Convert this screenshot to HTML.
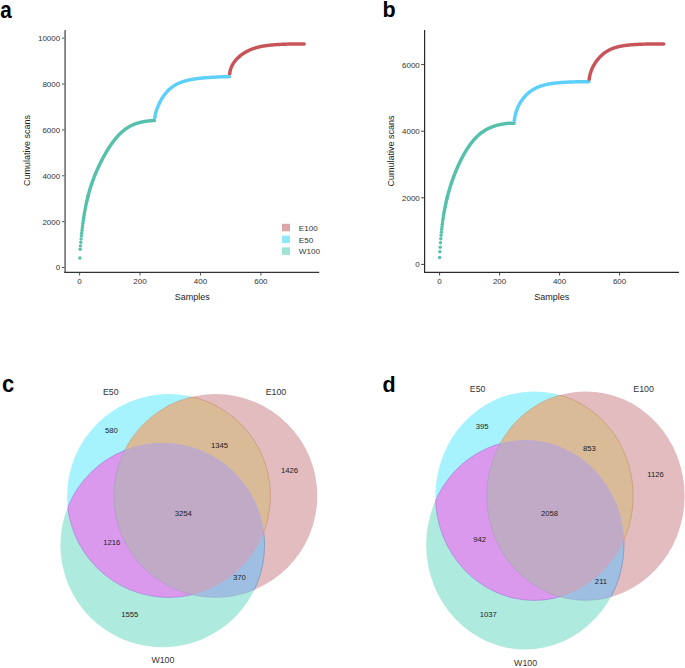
<!DOCTYPE html>
<html><head><meta charset="utf-8"><style>
html,body{margin:0;padding:0;background:#fff;}
body{width:685px;height:668px;overflow:hidden;font-family:"Liberation Sans", sans-serif;}
svg{display:block;}
</style></head><body><svg width="685" height="668" viewBox="0 0 685 668" font-family='"Liberation Sans", sans-serif'><text x="0" y="0" font-size="24" text-anchor="start" fill="#000" font-weight="bold" transform="translate(0.3,17.6) scale(0.86,0.98)">a</text><text x="382.4" y="17.2" font-size="21.5" text-anchor="start" fill="#000" font-weight="bold" >b</text><text x="0" y="0" font-size="24" text-anchor="start" fill="#000" font-weight="bold" transform="translate(1.9,392) scale(0.92,0.98)">c</text><text x="382.4" y="391.9" font-size="21.5" text-anchor="start" fill="#000" font-weight="bold" >d</text><line x1="65.1" y1="30" x2="65.1" y2="272.9" stroke="#6e6e6e" stroke-width="1.6"/><line x1="64.4" y1="272.4" x2="319.2" y2="272.4" stroke="#333" stroke-width="1.1"/><line x1="62" y1="267.50" x2="64.4" y2="267.50" stroke="#555" stroke-width="1"/><text x="60.2" y="270.4" font-size="8" text-anchor="end" fill="#333" font-weight="normal" >0</text><line x1="62" y1="221.64" x2="64.4" y2="221.64" stroke="#555" stroke-width="1"/><text x="60.2" y="224.54" font-size="8" text-anchor="end" fill="#333" font-weight="normal" >2000</text><line x1="62" y1="175.78" x2="64.4" y2="175.78" stroke="#555" stroke-width="1"/><text x="60.2" y="178.68" font-size="8" text-anchor="end" fill="#333" font-weight="normal" >4000</text><line x1="62" y1="129.92" x2="64.4" y2="129.92" stroke="#555" stroke-width="1"/><text x="60.2" y="132.82000000000002" font-size="8" text-anchor="end" fill="#333" font-weight="normal" >6000</text><line x1="62" y1="84.06" x2="64.4" y2="84.06" stroke="#555" stroke-width="1"/><text x="60.2" y="86.96000000000001" font-size="8" text-anchor="end" fill="#333" font-weight="normal" >8000</text><line x1="62" y1="38.20" x2="64.4" y2="38.20" stroke="#555" stroke-width="1"/><text x="60.2" y="41.100000000000016" font-size="8" text-anchor="end" fill="#333" font-weight="normal" >10000</text><line x1="79.60" y1="272.9" x2="79.60" y2="275.5" stroke="#555" stroke-width="1"/><text x="79.6" y="284.3" font-size="8" text-anchor="middle" fill="#333" font-weight="normal" >0</text><line x1="140.03" y1="272.9" x2="140.03" y2="275.5" stroke="#555" stroke-width="1"/><text x="140.03" y="284.3" font-size="8" text-anchor="middle" fill="#333" font-weight="normal" >200</text><line x1="200.47" y1="272.9" x2="200.47" y2="275.5" stroke="#555" stroke-width="1"/><text x="200.47" y="284.3" font-size="8" text-anchor="middle" fill="#333" font-weight="normal" >400</text><line x1="260.90" y1="272.9" x2="260.90" y2="275.5" stroke="#555" stroke-width="1"/><text x="260.9" y="284.3" font-size="8" text-anchor="middle" fill="#333" font-weight="normal" >600</text><text x="192.3" y="300.1" font-size="9" text-anchor="middle" fill="#222" font-weight="normal" >Samples</text><text x="0" y="0" font-size="9" text-anchor="middle" fill="#222" font-weight="normal" transform="translate(30.4,150.5) rotate(-90)">Cumulative scans</text><rect x="282" y="223.8" width="8" height="7.5" fill="#dca5aa"/><text x="298.8" y="230.8" font-size="8.1" text-anchor="start" fill="#333" font-weight="normal" >E100</text><rect x="282" y="235.6" width="8" height="7.5" fill="#8ee7fb"/><text x="298.8" y="242.6" font-size="8.1" text-anchor="start" fill="#333" font-weight="normal" >E50</text><rect x="282" y="247.4" width="8" height="7.5" fill="#9ee3d3"/><text x="298.8" y="254.4" font-size="8.1" text-anchor="start" fill="#333" font-weight="normal" >W100</text><circle cx="79.90" cy="258.00" r="1.73" fill="#56c1ab"/><circle cx="80.20" cy="249.20" r="1.73" fill="#56c1ab"/><circle cx="80.50" cy="245.86" r="1.73" fill="#56c1ab"/><circle cx="80.80" cy="242.36" r="1.73" fill="#56c1ab"/><circle cx="81.10" cy="239.12" r="1.73" fill="#56c1ab"/><circle cx="81.40" cy="236.09" r="1.73" fill="#56c1ab"/><circle cx="81.70" cy="233.26" r="1.73" fill="#56c1ab"/><circle cx="82.00" cy="230.58" r="1.73" fill="#56c1ab"/><circle cx="82.30" cy="228.05" r="1.73" fill="#56c1ab"/><circle cx="82.60" cy="225.66" r="1.73" fill="#56c1ab"/><circle cx="82.90" cy="223.38" r="1.73" fill="#56c1ab"/><circle cx="83.19" cy="221.21" r="1.73" fill="#56c1ab"/><circle cx="83.49" cy="219.14" r="1.73" fill="#56c1ab"/><circle cx="83.79" cy="217.16" r="1.73" fill="#56c1ab"/><circle cx="84.09" cy="215.27" r="1.73" fill="#56c1ab"/><circle cx="84.39" cy="213.46" r="1.73" fill="#56c1ab"/><circle cx="84.69" cy="211.72" r="1.73" fill="#56c1ab"/><circle cx="84.99" cy="210.04" r="1.73" fill="#56c1ab"/><circle cx="85.29" cy="208.44" r="1.73" fill="#56c1ab"/><circle cx="85.59" cy="206.89" r="1.73" fill="#56c1ab"/><circle cx="85.89" cy="205.39" r="1.73" fill="#56c1ab"/><circle cx="86.19" cy="203.95" r="1.73" fill="#56c1ab"/><circle cx="86.49" cy="202.56" r="1.73" fill="#56c1ab"/><circle cx="86.79" cy="201.21" r="1.73" fill="#56c1ab"/><circle cx="87.09" cy="199.90" r="1.73" fill="#56c1ab"/><circle cx="87.39" cy="198.64" r="1.73" fill="#56c1ab"/><circle cx="87.69" cy="197.41" r="1.73" fill="#56c1ab"/><circle cx="87.99" cy="196.22" r="1.73" fill="#56c1ab"/><path d="M87.99,196.22 88.29,195.06 88.59,193.93 88.89,192.84 89.18,191.77 89.48,190.73 89.78,189.71 90.08,188.72 90.38,187.75 90.68,186.80 90.98,185.87 91.28,184.96 91.58,184.07 91.88,183.19 92.18,182.33 92.48,181.49 92.78,180.66 93.08,179.85 93.38,179.05 93.68,178.26 93.98,177.48 94.28,176.72 94.58,175.97 94.88,175.22 95.17,174.49 95.47,173.77 95.77,173.05 96.07,172.35 96.37,171.65 96.67,170.96 96.97,170.28 97.27,169.61 97.57,168.95 97.87,168.29 98.17,167.64 98.47,166.99 98.77,166.35 99.07,165.72 99.37,165.10 99.67,164.48 99.97,163.86 100.27,163.26 100.57,162.65 100.87,162.06 101.16,161.46 101.46,160.88 101.76,160.30 102.06,159.72 102.36,159.15 102.66,158.58 102.96,158.02 103.26,157.47 103.56,156.91 103.86,156.37 104.16,155.83 104.46,155.29 104.76,154.76 105.06,154.23 105.36,153.71 105.66,153.19 105.96,152.67 106.26,152.16 106.56,151.66 106.86,151.16 107.15,150.66 107.45,150.17 107.75,149.69 108.05,149.21 108.35,148.73 108.65,148.26 108.95,147.79 109.25,147.33 109.55,146.87 109.85,146.41 110.15,145.96 110.45,145.52 110.75,145.08 111.05,144.64 111.35,144.21 111.65,143.79 111.95,143.36 112.25,142.95 112.55,142.54 112.84,142.13 113.14,141.73 113.44,141.33 113.74,140.93 114.04,140.54 114.34,140.16 114.64,139.78 114.94,139.41 115.24,139.04 115.54,138.67 115.84,138.31 116.14,137.95 116.44,137.60 116.74,137.26 117.04,136.91 117.34,136.58 117.64,136.24 117.94,135.91 118.24,135.59 118.54,135.27 118.84,134.96 119.13,134.65 119.43,134.34 119.73,134.04 120.03,133.74 120.33,133.45 120.63,133.16 120.93,132.88 121.23,132.60 121.53,132.33 121.83,132.06 122.13,131.79 122.43,131.53 122.73,131.27 123.03,131.02 123.33,130.77 123.63,130.53 123.93,130.29 124.23,130.05 124.53,129.82 124.83,129.59 125.12,129.37 125.42,129.15 125.72,128.93 126.02,128.72 126.32,128.51 126.62,128.31 126.92,128.10 127.22,127.91 127.52,127.71 127.82,127.53 128.12,127.34 128.42,127.16 128.72,126.98 129.02,126.80 129.32,126.63 129.62,126.46 129.92,126.30 130.22,126.14 130.52,125.98 130.81,125.82 131.11,125.67 131.41,125.52 131.71,125.38 132.01,125.24 132.31,125.10 132.61,124.96 132.91,124.83 133.21,124.70 133.51,124.57 133.81,124.45 134.11,124.32 134.41,124.21 134.71,124.09 135.01,123.98 135.31,123.86 135.61,123.76 135.91,123.65 136.21,123.55 136.51,123.45 136.81,123.35 137.10,123.25 137.40,123.16 137.70,123.06 138.00,122.98 138.30,122.89 138.60,122.80 138.90,122.72 139.20,122.64 139.50,122.56 139.80,122.48 140.10,122.41 140.40,122.34 140.70,122.27 141.00,122.20 141.30,122.13 141.60,122.06 141.90,122.00 142.20,121.94 142.50,121.88 142.80,121.82 143.09,121.76 143.39,121.70 143.69,121.65 143.99,121.60 144.29,121.55 144.59,121.50 144.89,121.45 145.19,121.40 145.49,121.35 145.79,121.31 146.09,121.27 146.39,121.23 146.69,121.18 146.99,121.14 147.29,121.11 147.59,121.07 147.89,121.03 148.19,121.00 148.49,120.96 148.78,120.93 149.08,120.90 149.38,120.87 149.68,120.84 149.98,120.81 150.28,120.78 150.58,120.75 150.88,120.73 151.18,120.70 151.48,120.67 151.78,120.65 152.08,120.63 152.38,120.60 152.68,120.58 152.98,120.56 153.28,120.55 153.58,120.55 153.88,120.55 154.18,120.55 154.48,120.55" fill="none" stroke="#56c1ab" stroke-width="3.45" stroke-linecap="round" stroke-linejoin="round"/><circle cx="154.78" cy="117.44" r="1.73" fill="#5cd0fb"/><path d="M154.78,117.44 155.07,115.73 155.37,114.35 155.67,113.14 155.97,112.06 156.27,111.06 156.57,110.12 156.87,109.24 157.17,108.41 157.47,107.61 157.77,106.85 158.07,106.12 158.37,105.41 158.67,104.73 158.97,104.08 159.27,103.44 159.57,102.82 159.87,102.23 160.17,101.64 160.47,101.08 160.77,100.53 161.06,99.99 161.36,99.47 161.66,98.96 161.96,98.46 162.26,97.98 162.56,97.51 162.86,97.05 163.16,96.60 163.46,96.16 163.76,95.73 164.06,95.32 164.36,94.91 164.66,94.51 164.96,94.12 165.26,93.74 165.56,93.37 165.86,93.01 166.16,92.65 166.46,92.30 166.75,91.97 167.05,91.64 167.35,91.31 167.65,91.00 167.95,90.69 168.25,90.39 168.55,90.09 168.85,89.81 169.15,89.53 169.45,89.25 169.75,88.98 170.05,88.72 170.35,88.47 170.65,88.22 170.95,87.97 171.25,87.73 171.55,87.50 171.85,87.27 172.15,87.05 172.45,86.83 172.75,86.62 173.04,86.41 173.34,86.21 173.64,86.01 173.94,85.82 174.24,85.63 174.54,85.44 174.84,85.26 175.14,85.09 175.44,84.91 175.74,84.74 176.04,84.58 176.34,84.42 176.64,84.26 176.94,84.11 177.24,83.95 177.54,83.81 177.84,83.66 178.14,83.52 178.44,83.38 178.74,83.25 179.03,83.12 179.33,82.99 179.63,82.86 179.93,82.74 180.23,82.62 180.53,82.50 180.83,82.38 181.13,82.27 181.43,82.16 181.73,82.05 182.03,81.94 182.33,81.84 182.63,81.74 182.93,81.64 183.23,81.54 183.53,81.45 183.83,81.35 184.13,81.26 184.43,81.17 184.72,81.09 185.02,81.00 185.32,80.92 185.62,80.83 185.92,80.75 186.22,80.67 186.52,80.60 186.82,80.52 187.12,80.45 187.42,80.37 187.72,80.30 188.02,80.23 188.32,80.16 188.62,80.10 188.92,80.03 189.22,79.96 189.52,79.90 189.82,79.84 190.12,79.78 190.42,79.72 190.72,79.66 191.01,79.60 191.31,79.55 191.61,79.49 191.91,79.44 192.21,79.38 192.51,79.33 192.81,79.28 193.11,79.23 193.41,79.18 193.71,79.13 194.01,79.08 194.31,79.03 194.61,78.99 194.91,78.94 195.21,78.90 195.51,78.86 195.81,78.81 196.11,78.77 196.41,78.73 196.71,78.69 197.00,78.65 197.30,78.61 197.60,78.57 197.90,78.53 198.20,78.50 198.50,78.46 198.80,78.42 199.10,78.39 199.40,78.35 199.70,78.32 200.00,78.29 200.30,78.25 200.60,78.22 200.90,78.19 201.20,78.16 201.50,78.13 201.80,78.10 202.10,78.07 202.40,78.04 202.69,78.01 202.99,77.98 203.29,77.95 203.59,77.92 203.89,77.90 204.19,77.87 204.49,77.84 204.79,77.82 205.09,77.79 205.39,77.77 205.69,77.74 205.99,77.72 206.29,77.69 206.59,77.67 206.89,77.65 207.19,77.62 207.49,77.60 207.79,77.58 208.09,77.56 208.39,77.54 208.69,77.52 208.98,77.49 209.28,77.47 209.58,77.45 209.88,77.43 210.18,77.41 210.48,77.39 210.78,77.38 211.08,77.36 211.38,77.34 211.68,77.32 211.98,77.30 212.28,77.28 212.58,77.27 212.88,77.25 213.18,77.23 213.48,77.22 213.78,77.20 214.08,77.18 214.38,77.17 214.68,77.15 214.97,77.13 215.27,77.12 215.57,77.10 215.87,77.09 216.17,77.07 216.47,77.06 216.77,77.04 217.07,77.03 217.37,77.02 217.67,77.00 217.97,76.99 218.27,76.98 218.57,76.96 218.87,76.95 219.17,76.94 219.47,76.92 219.77,76.91 220.07,76.90 220.37,76.89 220.67,76.87 220.96,76.86 221.26,76.85 221.56,76.84 221.86,76.83 222.16,76.81 222.46,76.80 222.76,76.80 223.06,76.80 223.36,76.80 223.66,76.80 223.96,76.80 224.26,76.80 224.56,76.80 224.86,76.80 225.16,76.80 225.46,76.80 225.76,76.80 226.06,76.80 226.36,76.80 226.66,76.80 226.95,76.80 227.25,76.80 227.55,76.80 227.85,76.80 228.15,76.80 228.45,76.80 228.75,76.80 229.05,76.80 229.35,76.80" fill="none" stroke="#5cd0fb" stroke-width="3.45" stroke-linecap="round" stroke-linejoin="round"/><circle cx="229.65" cy="73.61" r="1.73" fill="#c7545a"/><path d="M229.65,73.61 229.95,71.79 230.25,70.47 230.55,69.40 230.85,68.48 231.15,67.67 231.45,66.94 231.75,66.27 232.05,65.65 232.35,65.07 232.65,64.53 232.94,64.01 233.24,63.53 233.54,63.06 233.84,62.61 234.14,62.19 234.44,61.77 234.74,61.38 235.04,60.99 235.34,60.62 235.64,60.27 235.94,59.92 236.24,59.58 236.54,59.25 236.84,58.93 237.14,58.62 237.44,58.31 237.74,58.02 238.04,57.73 238.34,57.45 238.63,57.17 238.93,56.90 239.23,56.64 239.53,56.38 239.83,56.12 240.13,55.88 240.43,55.63 240.73,55.39 241.03,55.16 241.33,54.93 241.63,54.71 241.93,54.49 242.23,54.27 242.53,54.06 242.83,53.85 243.13,53.65 243.43,53.45 243.73,53.25 244.03,53.06 244.33,52.87 244.62,52.69 244.92,52.50 245.22,52.33 245.52,52.15 245.82,51.98 246.12,51.81 246.42,51.64 246.72,51.48 247.02,51.32 247.32,51.16 247.62,51.01 247.92,50.86 248.22,50.71 248.52,50.57 248.82,50.42 249.12,50.28 249.42,50.15 249.72,50.01 250.02,49.88 250.32,49.75 250.62,49.62 250.91,49.50 251.21,49.38 251.51,49.26 251.81,49.14 252.11,49.03 252.41,48.91 252.71,48.80 253.01,48.70 253.31,48.59 253.61,48.49 253.91,48.38 254.21,48.28 254.51,48.19 254.81,48.09 255.11,48.00 255.41,47.91 255.71,47.82 256.01,47.73 256.31,47.64 256.61,47.56 256.90,47.48 257.20,47.40 257.50,47.32 257.80,47.24 258.10,47.16 258.40,47.09 258.70,47.02 259.00,46.95 259.30,46.88 259.60,46.81 259.90,46.74 260.20,46.68 260.50,46.61 260.80,46.55 261.10,46.49 261.40,46.43 261.70,46.37 262.00,46.31 262.30,46.26 262.60,46.20 262.89,46.15 263.19,46.10 263.49,46.05 263.79,46.00 264.09,45.95 264.39,45.90 264.69,45.85 264.99,45.81 265.29,45.76 265.59,45.72 265.89,45.68 266.19,45.63 266.49,45.59 266.79,45.55 267.09,45.51 267.39,45.47 267.69,45.44 267.99,45.40 268.29,45.36 268.58,45.33 268.88,45.29 269.18,45.26 269.48,45.23 269.78,45.19 270.08,45.16 270.38,45.13 270.68,45.10 270.98,45.07 271.28,45.04 271.58,45.01 271.88,44.99 272.18,44.96 272.48,44.93 272.78,44.91 273.08,44.88 273.38,44.86 273.68,44.83 273.98,44.81 274.28,44.78 274.57,44.76 274.87,44.74 275.17,44.72 275.47,44.69 275.77,44.67 276.07,44.65 276.37,44.63 276.67,44.61 276.97,44.59 277.27,44.57 277.57,44.55 277.87,44.54 278.17,44.52 278.47,44.50 278.77,44.48 279.07,44.46 279.37,44.45 279.67,44.43 279.97,44.42 280.27,44.40 280.56,44.38 280.86,44.37 281.16,44.35 281.46,44.34 281.76,44.33 282.06,44.31 282.36,44.30 282.66,44.28 282.96,44.27 283.26,44.26 283.56,44.25 283.86,44.23 284.16,44.22 284.46,44.21 284.76,44.20 285.06,44.19 285.36,44.17 285.66,44.16 285.96,44.15 286.26,44.14 286.56,44.13 286.85,44.12 287.15,44.11 287.45,44.10 287.75,44.09 288.05,44.08 288.35,44.07 288.65,44.06 288.95,44.05 289.25,44.04 289.55,44.04 289.85,44.03 290.15,44.02 290.45,44.01 290.75,44.00 291.05,43.99 291.35,43.99 291.65,43.98 291.95,43.97 292.25,43.96 292.55,43.96 292.84,43.95 293.14,43.94 293.44,43.93 293.74,43.93 294.04,43.92 294.34,43.91 294.64,43.91 294.94,43.90 295.24,43.90 295.54,43.90 295.84,43.90 296.14,43.90 296.44,43.90 296.74,43.90 297.04,43.90 297.34,43.90 297.64,43.90 297.94,43.90 298.24,43.90 298.53,43.90 298.83,43.90 299.13,43.90 299.43,43.90 299.73,43.90 300.03,43.90 300.33,43.90 300.63,43.90 300.93,43.90 301.23,43.90 301.53,43.90 301.83,43.90 302.13,43.90 302.43,43.90 302.73,43.90 303.03,43.90 303.33,43.90 303.63,43.90 303.93,43.90 304.23,43.90" fill="none" stroke="#c7545a" stroke-width="3.45" stroke-linecap="round" stroke-linejoin="round"/><line x1="424.6" y1="30" x2="424.6" y2="272.9" stroke="#2a2a2a" stroke-width="1.2"/><line x1="424" y1="272.4" x2="679" y2="272.4" stroke="#2a2a2a" stroke-width="1.1"/><line x1="421.1" y1="264.40" x2="424" y2="264.40" stroke="#444" stroke-width="1"/><text x="419.8" y="267.29999999999995" font-size="8" text-anchor="end" fill="#333" font-weight="normal" >0</text><line x1="421.1" y1="197.80" x2="424" y2="197.80" stroke="#444" stroke-width="1"/><text x="419.8" y="200.69999999999996" font-size="8" text-anchor="end" fill="#333" font-weight="normal" >2000</text><line x1="421.1" y1="131.20" x2="424" y2="131.20" stroke="#444" stroke-width="1"/><text x="419.8" y="134.09999999999997" font-size="8" text-anchor="end" fill="#333" font-weight="normal" >4000</text><line x1="421.1" y1="64.60" x2="424" y2="64.60" stroke="#444" stroke-width="1"/><text x="419.8" y="67.49999999999997" font-size="8" text-anchor="end" fill="#333" font-weight="normal" >6000</text><line x1="439.60" y1="272.9" x2="439.60" y2="275.5" stroke="#444" stroke-width="1"/><text x="439.6" y="284.4" font-size="8" text-anchor="middle" fill="#333" font-weight="normal" >0</text><line x1="499.60" y1="272.9" x2="499.60" y2="275.5" stroke="#444" stroke-width="1"/><text x="499.6" y="284.4" font-size="8" text-anchor="middle" fill="#333" font-weight="normal" >200</text><line x1="559.60" y1="272.9" x2="559.60" y2="275.5" stroke="#444" stroke-width="1"/><text x="559.6" y="284.4" font-size="8" text-anchor="middle" fill="#333" font-weight="normal" >400</text><line x1="619.60" y1="272.9" x2="619.60" y2="275.5" stroke="#444" stroke-width="1"/><text x="619.6" y="284.4" font-size="8" text-anchor="middle" fill="#333" font-weight="normal" >600</text><text x="551.7" y="300.1" font-size="9" text-anchor="middle" fill="#222" font-weight="normal" >Samples</text><text x="0" y="0" font-size="9" text-anchor="middle" fill="#222" font-weight="normal" transform="translate(394,151) rotate(-90)">Cumulative scans</text><circle cx="439.60" cy="257.60" r="1.73" fill="#56c1ab"/><circle cx="439.90" cy="251.80" r="1.73" fill="#56c1ab"/><circle cx="440.20" cy="247.35" r="1.73" fill="#56c1ab"/><circle cx="440.50" cy="242.79" r="1.73" fill="#56c1ab"/><circle cx="440.80" cy="238.85" r="1.73" fill="#56c1ab"/><circle cx="441.10" cy="235.36" r="1.73" fill="#56c1ab"/><circle cx="441.40" cy="232.21" r="1.73" fill="#56c1ab"/><circle cx="441.70" cy="229.34" r="1.73" fill="#56c1ab"/><circle cx="441.99" cy="226.70" r="1.73" fill="#56c1ab"/><circle cx="442.29" cy="224.24" r="1.73" fill="#56c1ab"/><circle cx="442.59" cy="221.95" r="1.73" fill="#56c1ab"/><circle cx="442.89" cy="219.80" r="1.73" fill="#56c1ab"/><circle cx="443.19" cy="217.76" r="1.73" fill="#56c1ab"/><circle cx="443.49" cy="215.84" r="1.73" fill="#56c1ab"/><circle cx="443.79" cy="214.01" r="1.73" fill="#56c1ab"/><circle cx="444.09" cy="212.26" r="1.73" fill="#56c1ab"/><circle cx="444.39" cy="210.59" r="1.73" fill="#56c1ab"/><circle cx="444.69" cy="208.99" r="1.73" fill="#56c1ab"/><circle cx="444.99" cy="207.46" r="1.73" fill="#56c1ab"/><circle cx="445.29" cy="205.97" r="1.73" fill="#56c1ab"/><circle cx="445.59" cy="204.54" r="1.73" fill="#56c1ab"/><circle cx="445.89" cy="203.16" r="1.73" fill="#56c1ab"/><circle cx="446.18" cy="201.82" r="1.73" fill="#56c1ab"/><circle cx="446.48" cy="200.53" r="1.73" fill="#56c1ab"/><circle cx="446.78" cy="199.27" r="1.73" fill="#56c1ab"/><circle cx="447.08" cy="198.04" r="1.73" fill="#56c1ab"/><circle cx="447.38" cy="196.85" r="1.73" fill="#56c1ab"/><path d="M447.38,196.85 447.68,195.69 447.98,194.56 448.28,193.45 448.58,192.37 448.88,191.31 449.18,190.27 449.48,189.26 449.78,188.26 450.08,187.28 450.37,186.32 450.67,185.38 450.97,184.46 451.27,183.55 451.57,182.65 451.87,181.77 452.17,180.90 452.47,180.05 452.77,179.20 453.07,178.37 453.37,177.55 453.67,176.75 453.97,175.95 454.27,175.16 454.56,174.39 454.86,173.62 455.16,172.87 455.46,172.12 455.76,171.38 456.06,170.66 456.36,169.94 456.66,169.23 456.96,168.52 457.26,167.83 457.56,167.14 457.86,166.47 458.16,165.80 458.46,165.13 458.76,164.48 459.05,163.83 459.35,163.19 459.65,162.56 459.95,161.94 460.25,161.32 460.55,160.71 460.85,160.10 461.15,159.51 461.45,158.92 461.75,158.33 462.05,157.76 462.35,157.19 462.65,156.62 462.95,156.07 463.24,155.52 463.54,154.97 463.84,154.44 464.14,153.91 464.44,153.38 464.74,152.86 465.04,152.35 465.34,151.85 465.64,151.35 465.94,150.85 466.24,150.37 466.54,149.89 466.84,149.41 467.14,148.94 467.43,148.48 467.73,148.02 468.03,147.57 468.33,147.12 468.63,146.68 468.93,146.25 469.23,145.82 469.53,145.40 469.83,144.98 470.13,144.57 470.43,144.17 470.73,143.77 471.03,143.37 471.33,142.98 471.63,142.60 471.92,142.22 472.22,141.85 472.52,141.48 472.82,141.12 473.12,140.76 473.42,140.41 473.72,140.06 474.02,139.72 474.32,139.38 474.62,139.05 474.92,138.73 475.22,138.40 475.52,138.09 475.82,137.78 476.11,137.47 476.41,137.17 476.71,136.87 477.01,136.58 477.31,136.29 477.61,136.01 477.91,135.73 478.21,135.45 478.51,135.18 478.81,134.92 479.11,134.66 479.41,134.40 479.71,134.15 480.01,133.90 480.30,133.66 480.60,133.42 480.90,133.18 481.20,132.95 481.50,132.72 481.80,132.50 482.10,132.28 482.40,132.06 482.70,131.85 483.00,131.64 483.30,131.44 483.60,131.24 483.90,131.04 484.20,130.85 484.50,130.66 484.79,130.47 485.09,130.29 485.39,130.11 485.69,129.93 485.99,129.76 486.29,129.59 486.59,129.42 486.89,129.26 487.19,129.10 487.49,128.94 487.79,128.79 488.09,128.64 488.39,128.49 488.69,128.34 488.98,128.20 489.28,128.06 489.58,127.93 489.88,127.79 490.18,127.66 490.48,127.53 490.78,127.41 491.08,127.28 491.38,127.16 491.68,127.04 491.98,126.93 492.28,126.81 492.58,126.70 492.88,126.59 493.17,126.49 493.47,126.38 493.77,126.28 494.07,126.18 494.37,126.08 494.67,125.98 494.97,125.89 495.27,125.80 495.57,125.71 495.87,125.62 496.17,125.53 496.47,125.45 496.77,125.37 497.07,125.29 497.36,125.21 497.66,125.13 497.96,125.05 498.26,124.98 498.56,124.91 498.86,124.84 499.16,124.77 499.46,124.70 499.76,124.63 500.06,124.57 500.36,124.51 500.66,124.44 500.96,124.38 501.26,124.33 501.56,124.27 501.85,124.21 502.15,124.16 502.45,124.10 502.75,124.05 503.05,124.00 503.35,123.95 503.65,123.90 503.95,123.85 504.25,123.80 504.55,123.76 504.85,123.71 505.15,123.67 505.45,123.63 505.75,123.59 506.04,123.54 506.34,123.50 506.64,123.47 506.94,123.43 507.24,123.39 507.54,123.35 507.84,123.32 508.14,123.28 508.44,123.25 508.74,123.22 509.04,123.20 509.34,123.20 509.64,123.20 509.94,123.20 510.23,123.20 510.53,123.20 510.83,123.20 511.13,123.20 511.43,123.20 511.73,123.20 512.03,123.20 512.33,123.20 512.63,123.20 512.93,123.20 513.23,123.20 513.53,123.20 513.83,123.20 514.13,123.20" fill="none" stroke="#56c1ab" stroke-width="3.45" stroke-linecap="round" stroke-linejoin="round"/><circle cx="514.43" cy="120.34" r="1.73" fill="#5cd0fb"/><path d="M514.43,120.34 514.72,117.98 515.02,116.25 515.32,114.83 515.62,113.61 515.92,112.52 516.22,111.54 516.52,110.63 516.82,109.79 517.12,109.01 517.42,108.26 517.72,107.56 518.02,106.89 518.32,106.26 518.62,105.65 518.91,105.06 519.21,104.50 519.51,103.95 519.81,103.42 520.11,102.92 520.41,102.42 520.71,101.95 521.01,101.48 521.31,101.03 521.61,100.59 521.91,100.16 522.21,99.75 522.51,99.34 522.81,98.95 523.10,98.56 523.40,98.18 523.70,97.82 524.00,97.46 524.30,97.11 524.60,96.76 524.90,96.43 525.20,96.10 525.50,95.78 525.80,95.47 526.10,95.16 526.40,94.86 526.70,94.57 527.00,94.28 527.29,94.00 527.59,93.72 527.89,93.45 528.19,93.19 528.49,92.93 528.79,92.68 529.09,92.43 529.39,92.19 529.69,91.95 529.99,91.72 530.29,91.50 530.59,91.28 530.89,91.06 531.19,90.85 531.49,90.64 531.78,90.44 532.08,90.24 532.38,90.04 532.68,89.85 532.98,89.67 533.28,89.49 533.58,89.31 533.88,89.13 534.18,88.96 534.48,88.80 534.78,88.64 535.08,88.48 535.38,88.32 535.68,88.17 535.97,88.02 536.27,87.88 536.57,87.74 536.87,87.60 537.17,87.46 537.47,87.33 537.77,87.20 538.07,87.07 538.37,86.95 538.67,86.83 538.97,86.71 539.27,86.60 539.57,86.48 539.87,86.37 540.16,86.27 540.46,86.16 540.76,86.06 541.06,85.96 541.36,85.86 541.66,85.77 541.96,85.67 542.26,85.58 542.56,85.49 542.86,85.40 543.16,85.32 543.46,85.24 543.76,85.15 544.06,85.08 544.36,85.00 544.65,84.92 544.95,84.85 545.25,84.78 545.55,84.70 545.85,84.63 546.15,84.57 546.45,84.50 546.75,84.44 547.05,84.37 547.35,84.31 547.65,84.25 547.95,84.19 548.25,84.13 548.55,84.08 548.84,84.02 549.14,83.97 549.44,83.92 549.74,83.87 550.04,83.81 550.34,83.77 550.64,83.72 550.94,83.67 551.24,83.62 551.54,83.58 551.84,83.53 552.14,83.49 552.44,83.45 552.74,83.41 553.03,83.37 553.33,83.33 553.63,83.29 553.93,83.25 554.23,83.21 554.53,83.18 554.83,83.14 555.13,83.11 555.43,83.07 555.73,83.04 556.03,83.01 556.33,82.98 556.63,82.94 556.93,82.91 557.22,82.88 557.52,82.85 557.82,82.83 558.12,82.80 558.42,82.77 558.72,82.74 559.02,82.72 559.32,82.69 559.62,82.66 559.92,82.64 560.22,82.62 560.52,82.59 560.82,82.57 561.12,82.54 561.42,82.52 561.71,82.50 562.01,82.48 562.31,82.46 562.61,82.44 562.91,82.42 563.21,82.40 563.51,82.38 563.81,82.36 564.11,82.34 564.41,82.32 564.71,82.30 565.01,82.28 565.31,82.27 565.61,82.25 565.90,82.23 566.20,82.21 566.50,82.20 566.80,82.18 567.10,82.17 567.40,82.15 567.70,82.14 568.00,82.12 568.30,82.11 568.60,82.09 568.90,82.08 569.20,82.06 569.50,82.05 569.80,82.04 570.09,82.02 570.39,82.01 570.69,82.00 570.99,81.99 571.29,81.97 571.59,81.96 571.89,81.95 572.19,81.94 572.49,81.93 572.79,81.92 573.09,81.90 573.39,81.89 573.69,81.88 573.99,81.87 574.29,81.86 574.58,81.85 574.88,81.84 575.18,81.83 575.48,81.82 575.78,81.81 576.08,81.80 576.38,81.79 576.68,81.78 576.98,81.78 577.28,81.77 577.58,81.76 577.88,81.75 578.18,81.74 578.48,81.73 578.77,81.73 579.07,81.72 579.37,81.71 579.67,81.70 579.97,81.69 580.27,81.69 580.57,81.68 580.87,81.67 581.17,81.67 581.47,81.66 581.77,81.65 582.07,81.65 582.37,81.65 582.67,81.65 582.96,81.65 583.26,81.65 583.56,81.65 583.86,81.65 584.16,81.65 584.46,81.65 584.76,81.65 585.06,81.65 585.36,81.65 585.66,81.65 585.96,81.65 586.26,81.65 586.56,81.65 586.86,81.65 587.15,81.65 587.45,81.65 587.75,81.65 588.05,81.65 588.35,81.65 588.65,81.65 588.95,81.65" fill="none" stroke="#5cd0fb" stroke-width="3.45" stroke-linecap="round" stroke-linejoin="round"/><circle cx="589.25" cy="79.11" r="1.73" fill="#c7545a"/><path d="M589.25,79.11 589.55,77.03 589.85,75.49 590.15,74.22 590.45,73.12 590.75,72.14 591.05,71.24 591.35,70.42 591.64,69.65 591.94,68.93 592.24,68.25 592.54,67.61 592.84,66.99 593.14,66.40 593.44,65.84 593.74,65.29 594.04,64.77 594.34,64.26 594.64,63.78 594.94,63.30 595.24,62.84 595.54,62.39 595.83,61.96 596.13,61.54 596.43,61.13 596.73,60.73 597.03,60.33 597.33,59.95 597.63,59.58 597.93,59.22 598.23,58.86 598.53,58.51 598.83,58.17 599.13,57.84 599.43,57.52 599.73,57.20 600.02,56.89 600.32,56.59 600.62,56.29 600.92,56.00 601.22,55.71 601.52,55.44 601.82,55.16 602.12,54.90 602.42,54.63 602.72,54.38 603.02,54.13 603.32,53.88 603.62,53.65 603.92,53.41 604.22,53.18 604.51,52.96 604.81,52.74 605.11,52.52 605.41,52.31 605.71,52.11 606.01,51.91 606.31,51.71 606.61,51.52 606.91,51.33 607.21,51.15 607.51,50.97 607.81,50.80 608.11,50.63 608.41,50.46 608.70,50.30 609.00,50.14 609.30,49.99 609.60,49.83 609.90,49.69 610.20,49.54 610.50,49.40 610.80,49.26 611.10,49.13 611.40,49.00 611.70,48.87 612.00,48.75 612.30,48.63 612.60,48.51 612.89,48.39 613.19,48.28 613.49,48.17 613.79,48.06 614.09,47.96 614.39,47.86 614.69,47.76 614.99,47.66 615.29,47.56 615.59,47.47 615.89,47.38 616.19,47.30 616.49,47.21 616.79,47.13 617.08,47.05 617.38,46.97 617.68,46.89 617.98,46.82 618.28,46.74 618.58,46.67 618.88,46.60 619.18,46.53 619.48,46.47 619.78,46.40 620.08,46.34 620.38,46.28 620.68,46.22 620.98,46.16 621.28,46.10 621.57,46.05 621.87,46.00 622.17,45.94 622.47,45.89 622.77,45.84 623.07,45.79 623.37,45.75 623.67,45.70 623.97,45.65 624.27,45.61 624.57,45.57 624.87,45.52 625.17,45.48 625.47,45.44 625.76,45.40 626.06,45.37 626.36,45.33 626.66,45.29 626.96,45.26 627.26,45.22 627.56,45.19 627.86,45.16 628.16,45.12 628.46,45.09 628.76,45.06 629.06,45.03 629.36,45.00 629.66,44.97 629.95,44.95 630.25,44.92 630.55,44.89 630.85,44.87 631.15,44.84 631.45,44.82 631.75,44.79 632.05,44.77 632.35,44.74 632.65,44.72 632.95,44.70 633.25,44.68 633.55,44.66 633.85,44.64 634.14,44.62 634.44,44.60 634.74,44.58 635.04,44.56 635.34,44.54 635.64,44.52 635.94,44.50 636.24,44.49 636.54,44.47 636.84,44.45 637.14,44.44 637.44,44.42 637.74,44.40 638.04,44.39 638.34,44.37 638.63,44.36 638.93,44.34 639.23,44.33 639.53,44.32 639.83,44.30 640.13,44.29 640.43,44.28 640.73,44.26 641.03,44.25 641.33,44.24 641.63,44.23 641.93,44.22 642.23,44.20 642.53,44.19 642.82,44.18 643.12,44.17 643.42,44.16 643.72,44.15 644.02,44.14 644.32,44.13 644.62,44.12 644.92,44.11 645.22,44.10 645.52,44.09 645.82,44.08 646.12,44.07 646.42,44.07 646.72,44.06 647.01,44.05 647.31,44.04 647.61,44.03 647.91,44.02 648.21,44.02 648.51,44.01 648.81,44.00 649.11,43.99 649.41,43.99 649.71,43.98 650.01,43.97 650.31,43.97 650.61,43.96 650.91,43.95 651.21,43.95 651.50,43.94 651.80,43.93 652.10,43.93 652.40,43.92 652.70,43.91 653.00,43.91 653.30,43.90 653.60,43.90 653.90,43.90 654.20,43.90 654.50,43.90 654.80,43.90 655.10,43.90 655.40,43.90 655.69,43.90 655.99,43.90 656.29,43.90 656.59,43.90 656.89,43.90 657.19,43.90 657.49,43.90 657.79,43.90 658.09,43.90 658.39,43.90 658.69,43.90 658.99,43.90 659.29,43.90 659.59,43.90 659.88,43.90 660.18,43.90 660.48,43.90 660.78,43.90 661.08,43.90 661.38,43.90 661.68,43.90 661.98,43.90 662.28,43.90 662.58,43.90 662.88,43.90 663.18,43.90 663.48,43.90 663.78,43.90" fill="none" stroke="#c7545a" stroke-width="3.45" stroke-linecap="round" stroke-linejoin="round"/><defs><clipPath id="ca"><ellipse cx="168.8" cy="495.8" rx="101.7" ry="101.7" /></clipPath><clipPath id="cb"><ellipse cx="215.6" cy="495.8" rx="101.7" ry="101.7" /></clipPath><clipPath id="cw"><ellipse cx="162.5" cy="545.2" rx="102.1" ry="102.1" /></clipPath></defs><ellipse cx="168.8" cy="495.8" rx="101.7" ry="101.7" fill="#a7f3fd"/><ellipse cx="215.6" cy="495.8" rx="101.7" ry="101.7" fill="#e3bcbf"/><ellipse cx="162.5" cy="545.2" rx="102.1" ry="102.1" fill="#afeadf"/><g clip-path="url(#ca)"><ellipse cx="215.6" cy="495.8" rx="101.7" ry="101.7" fill="#d9bb98"/><ellipse cx="162.5" cy="545.2" rx="102.1" ry="102.1" fill="#db99ee"/></g><g clip-path="url(#cb)"><ellipse cx="162.5" cy="545.2" rx="102.1" ry="102.1" fill="#9ebfe1"/></g><g clip-path="url(#ca)"><g clip-path="url(#cb)"><ellipse cx="162.5" cy="545.2" rx="102.1" ry="102.1" fill="#c0aac6"/></g></g><defs><mask id="cWn100" maskUnits="userSpaceOnUse" x="0" y="300" width="685" height="368"><rect x="0" y="300" width="685" height="368" fill="#000"/><ellipse cx="162.5" cy="545.2" rx="102.1" ry="102.1" fill="#fff"/><ellipse cx="215.6" cy="495.8" rx="101.7" ry="101.7" fill="#000"/></mask><mask id="cE50n100" maskUnits="userSpaceOnUse" x="0" y="300" width="685" height="368"><rect x="0" y="300" width="685" height="368" fill="#000"/><ellipse cx="168.8" cy="495.8" rx="101.7" ry="101.7" fill="#fff"/><ellipse cx="215.6" cy="495.8" rx="101.7" ry="101.7" fill="#000"/></mask><mask id="cE50nW" maskUnits="userSpaceOnUse" x="0" y="300" width="685" height="368"><rect x="0" y="300" width="685" height="368" fill="#000"/><ellipse cx="168.8" cy="495.8" rx="101.7" ry="101.7" fill="#fff"/><ellipse cx="162.5" cy="545.2" rx="102.1" ry="102.1" fill="#000"/></mask><mask id="cE100n50" maskUnits="userSpaceOnUse" x="0" y="300" width="685" height="368"><rect x="0" y="300" width="685" height="368" fill="#000"/><ellipse cx="215.6" cy="495.8" rx="101.7" ry="101.7" fill="#fff"/><ellipse cx="168.8" cy="495.8" rx="101.7" ry="101.7" fill="#000"/></mask><mask id="cW" maskUnits="userSpaceOnUse" x="0" y="300" width="685" height="368"><rect x="0" y="300" width="685" height="368" fill="#000"/><ellipse cx="162.5" cy="545.2" rx="102.1" ry="102.1" fill="#fff"/></mask><mask id="cE100nW" maskUnits="userSpaceOnUse" x="0" y="300" width="685" height="368"><rect x="0" y="300" width="685" height="368" fill="#000"/><ellipse cx="215.6" cy="495.8" rx="101.7" ry="101.7" fill="#fff"/><ellipse cx="162.5" cy="545.2" rx="102.1" ry="102.1" fill="#000"/></mask></defs><g mask="url(#cE100nW)"><ellipse cx="168.8" cy="495.8" rx="101.7" ry="101.7" fill="none" stroke="#c07048" stroke-opacity="0.55" stroke-width="0.7"/></g><g mask="url(#cWn100)"><ellipse cx="168.8" cy="495.8" rx="101.7" ry="101.7" fill="none" stroke="#7a4fd0" stroke-opacity="0.5" stroke-width="0.7"/></g><g mask="url(#cE50nW)"><ellipse cx="215.6" cy="495.8" rx="101.7" ry="101.7" fill="none" stroke="#8c8a60" stroke-opacity="0.4" stroke-width="0.7"/></g><g mask="url(#cW)"><ellipse cx="215.6" cy="495.8" rx="101.7" ry="101.7" fill="none" stroke="#908098" stroke-opacity="0.35" stroke-width="0.7"/></g><g mask="url(#cE50n100)"><ellipse cx="162.5" cy="545.2" rx="102.1" ry="102.1" fill="none" stroke="#7a4fd0" stroke-opacity="0.5" stroke-width="0.7"/></g><g mask="url(#cE100n50)"><ellipse cx="162.5" cy="545.2" rx="102.1" ry="102.1" fill="none" stroke="#4a6ab0" stroke-opacity="0.6" stroke-width="0.7"/></g><text x="110.8" y="394.8" font-size="8.8" text-anchor="middle" fill="#333" font-weight="normal" >E50</text><text x="276" y="394.8" font-size="8.8" text-anchor="middle" fill="#333" font-weight="normal" >E100</text><text x="162.9" y="663" font-size="8.8" text-anchor="middle" fill="#333" font-weight="normal" >W100</text><text x="111.4" y="433.2" font-size="7.7" text-anchor="middle" fill="#222" font-weight="normal" >580</text><text x="219.6" y="448" font-size="7.7" text-anchor="middle" fill="#222" font-weight="normal" >1345</text><text x="289.5" y="472.6" font-size="7.7" text-anchor="middle" fill="#222" font-weight="normal" >1426</text><text x="183.2" y="515.8" font-size="7.7" text-anchor="middle" fill="#222" font-weight="normal" >3254</text><text x="111.8" y="545.1" font-size="7.7" text-anchor="middle" fill="#222" font-weight="normal" >1216</text><text x="239.4" y="579.6" font-size="7.7" text-anchor="middle" fill="#222" font-weight="normal" >370</text><text x="129.8" y="616.8" font-size="7.7" text-anchor="middle" fill="#222" font-weight="normal" >1555</text><defs><clipPath id="da"><ellipse cx="534.3" cy="495.9" rx="98.9" ry="104.5" /></clipPath><clipPath id="db"><ellipse cx="585.7" cy="495.9" rx="98.9" ry="104.5" /></clipPath><clipPath id="dw"><ellipse cx="525.1" cy="544.85" rx="98.9" ry="104.65" /></clipPath></defs><ellipse cx="534.3" cy="495.9" rx="98.9" ry="104.5" fill="#a7f3fd"/><ellipse cx="585.7" cy="495.9" rx="98.9" ry="104.5" fill="#e3bcbf"/><ellipse cx="525.1" cy="544.85" rx="98.9" ry="104.65" fill="#afeadf"/><g clip-path="url(#da)"><ellipse cx="585.7" cy="495.9" rx="98.9" ry="104.5" fill="#d9bb98"/><ellipse cx="525.1" cy="544.85" rx="98.9" ry="104.65" fill="#db99ee"/></g><g clip-path="url(#db)"><ellipse cx="525.1" cy="544.85" rx="98.9" ry="104.65" fill="#9ebfe1"/></g><g clip-path="url(#da)"><g clip-path="url(#db)"><ellipse cx="525.1" cy="544.85" rx="98.9" ry="104.65" fill="#c0aac6"/></g></g><defs><mask id="dWn100" maskUnits="userSpaceOnUse" x="0" y="300" width="685" height="368"><rect x="0" y="300" width="685" height="368" fill="#000"/><ellipse cx="525.1" cy="544.85" rx="98.9" ry="104.65" fill="#fff"/><ellipse cx="585.7" cy="495.9" rx="98.9" ry="104.5" fill="#000"/></mask><mask id="dE50n100" maskUnits="userSpaceOnUse" x="0" y="300" width="685" height="368"><rect x="0" y="300" width="685" height="368" fill="#000"/><ellipse cx="534.3" cy="495.9" rx="98.9" ry="104.5" fill="#fff"/><ellipse cx="585.7" cy="495.9" rx="98.9" ry="104.5" fill="#000"/></mask><mask id="dE50nW" maskUnits="userSpaceOnUse" x="0" y="300" width="685" height="368"><rect x="0" y="300" width="685" height="368" fill="#000"/><ellipse cx="534.3" cy="495.9" rx="98.9" ry="104.5" fill="#fff"/><ellipse cx="525.1" cy="544.85" rx="98.9" ry="104.65" fill="#000"/></mask><mask id="dE100n50" maskUnits="userSpaceOnUse" x="0" y="300" width="685" height="368"><rect x="0" y="300" width="685" height="368" fill="#000"/><ellipse cx="585.7" cy="495.9" rx="98.9" ry="104.5" fill="#fff"/><ellipse cx="534.3" cy="495.9" rx="98.9" ry="104.5" fill="#000"/></mask><mask id="dW" maskUnits="userSpaceOnUse" x="0" y="300" width="685" height="368"><rect x="0" y="300" width="685" height="368" fill="#000"/><ellipse cx="525.1" cy="544.85" rx="98.9" ry="104.65" fill="#fff"/></mask><mask id="dE100nW" maskUnits="userSpaceOnUse" x="0" y="300" width="685" height="368"><rect x="0" y="300" width="685" height="368" fill="#000"/><ellipse cx="585.7" cy="495.9" rx="98.9" ry="104.5" fill="#fff"/><ellipse cx="525.1" cy="544.85" rx="98.9" ry="104.65" fill="#000"/></mask></defs><g mask="url(#dE100nW)"><ellipse cx="534.3" cy="495.9" rx="98.9" ry="104.5" fill="none" stroke="#c07048" stroke-opacity="0.55" stroke-width="0.7"/></g><g mask="url(#dWn100)"><ellipse cx="534.3" cy="495.9" rx="98.9" ry="104.5" fill="none" stroke="#7a4fd0" stroke-opacity="0.5" stroke-width="0.7"/></g><g mask="url(#dE50nW)"><ellipse cx="585.7" cy="495.9" rx="98.9" ry="104.5" fill="none" stroke="#8c8a60" stroke-opacity="0.4" stroke-width="0.7"/></g><g mask="url(#dW)"><ellipse cx="585.7" cy="495.9" rx="98.9" ry="104.5" fill="none" stroke="#908098" stroke-opacity="0.35" stroke-width="0.7"/></g><g mask="url(#dE50n100)"><ellipse cx="525.1" cy="544.85" rx="98.9" ry="104.65" fill="none" stroke="#7a4fd0" stroke-opacity="0.5" stroke-width="0.7"/></g><g mask="url(#dE100n50)"><ellipse cx="525.1" cy="544.85" rx="98.9" ry="104.65" fill="none" stroke="#4a6ab0" stroke-opacity="0.6" stroke-width="0.7"/></g><text x="477.6" y="392.2" font-size="8.8" text-anchor="middle" fill="#333" font-weight="normal" >E50</text><text x="643.6" y="392.2" font-size="8.8" text-anchor="middle" fill="#333" font-weight="normal" >E100</text><text x="525.6" y="666" font-size="8.8" text-anchor="middle" fill="#333" font-weight="normal" >W100</text><text x="482.1" y="428.8" font-size="7.7" text-anchor="middle" fill="#222" font-weight="normal" >395</text><text x="589.4" y="451" font-size="7.7" text-anchor="middle" fill="#222" font-weight="normal" >853</text><text x="655.5" y="476.6" font-size="7.7" text-anchor="middle" fill="#222" font-weight="normal" >1126</text><text x="549.5" y="516.3" font-size="7.7" text-anchor="middle" fill="#222" font-weight="normal" >2058</text><text x="479.6" y="542.1" font-size="7.7" text-anchor="middle" fill="#222" font-weight="normal" >942</text><text x="601" y="584.1" font-size="7.7" text-anchor="middle" fill="#222" font-weight="normal" >211</text><text x="488.2" y="617" font-size="7.7" text-anchor="middle" fill="#222" font-weight="normal" >1037</text></svg></body></html>
